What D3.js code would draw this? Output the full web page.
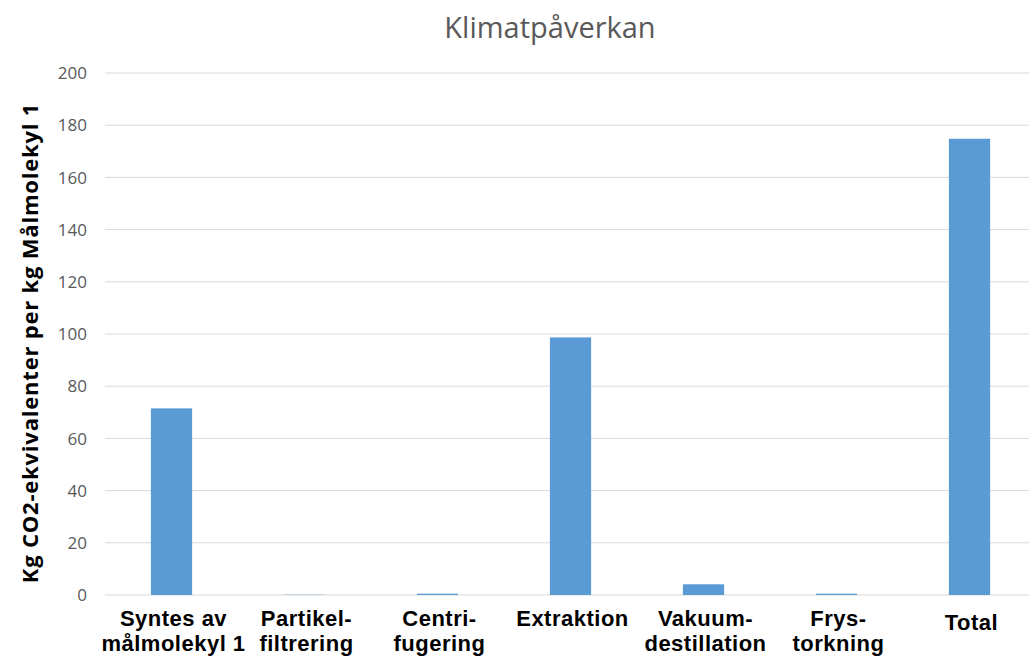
<!DOCTYPE html>
<html>
<head>
<meta charset="utf-8">
<script src="https://cdn.jsdelivr.net/npm/d3@7"></script>
<style>
  html, body { margin: 0; padding: 0; background: #fff; }
  svg { display: block; font-family: "Open Sans", sans-serif; }
</style>
</head>
<body>
<svg id="chart" width="1029" height="659"></svg>
<script>
// Process steps (two-line labels split with "\n")
const categories = [
  "Syntes av\nmålmolekyl 1",
  "Partikel-\nfiltrering",
  "Centri-\nfugering",
  "Extraktion",
  "Vakuum-\ndestillation",
  "Frys-\ntorkning",
  "Total"
];
// kg CO2-equivalents per kg target molecule
const values = [71.5, 0.1, 0.5, 98.7, 4.1, 0.5, 174.8];
const yTicks = [0, 20, 40, 60, 80, 100, 120, 140, 160, 180, 200];
const titleText = "Klimatpåverkan";
const yTitleText = "Kg CO2-ekvivalenter per kg Målmolekyl 1";

const svg = d3.select("#chart");
const plot = { left: 105, right: 1036, top: 73, bottom: 595 };

const x = d3.scaleBand()
  .domain(categories)
  .range([plot.left, plot.right])
  .paddingInner(0.69)
  .paddingOuter(0.345);

const y = d3.scaleLinear()
  .domain([0, 200])
  .range([plot.bottom, plot.top]);

// Horizontal gridlines
svg.append("g")
  .selectAll("line")
  .data(yTicks)
  .join("line")
  .attr("x1", plot.left)
  .attr("x2", plot.right)
  .attr("y1", d => y(d))
  .attr("y2", d => y(d))
  .attr("stroke", "#d9d9d9")
  .attr("stroke-width", 1);

// Y tick labels
svg.append("g")
  .selectAll("text")
  .data(yTicks)
  .join("text")
  .attr("x", 87)
  .attr("y", d => y(d))
  .attr("dy", "0.36em")
  .attr("text-anchor", "end")
  .attr("font-size", 17)
  .attr("fill", "#595959")
  .text(d => d);

// Bars
svg.append("g")
  .selectAll("rect")
  .data(values)
  .join("rect")
  .attr("x", (d, i) => x(categories[i]))
  .attr("width", x.bandwidth())
  .attr("y", d => y(d))
  .attr("height", d => y(0) - y(d))
  .attr("fill", "#5b9bd5");

// Category labels (compact line box so the two lines sit close together)
const xl = svg.append("g")
  .selectAll("text")
  .data(categories)
  .join("text")
  .attr("y", d => d === "Total" ? 630 : 626)
  .attr("text-anchor", "middle")
  .attr("font-family", "'Liberation Sans', Arial, sans-serif")
  .attr("font-size", 22)
  .attr("font-weight", "bold")
  .attr("letter-spacing", 0.5)
  .attr("fill", "#000");
xl.each(function(d) {
  const cx = x(d) + x.bandwidth() / 2 + 2;
  d3.select(this).selectAll("tspan")
    .data(d.split("\n"))
    .join("tspan")
    .attr("x", cx)
    .attr("dy", (l, i) => i === 0 ? 0 : 25)
    .text(l => l);
});

// Title
svg.append("text")
  .attr("x", 550)
  .attr("y", 38)
  .attr("text-anchor", "middle")
  .attr("font-size", 29)
  .attr("fill", "#595959")
  .text(titleText);

// Y axis title
svg.append("text")
  .attr("transform", "translate(38, 343) rotate(-90)")
  .attr("text-anchor", "middle")
  .attr("font-size", 22)
  .attr("font-weight", "bold")
  .attr("letter-spacing", 0.8)
  .attr("fill", "#000")
  .text(yTitleText);
</script>
</body>
</html>
